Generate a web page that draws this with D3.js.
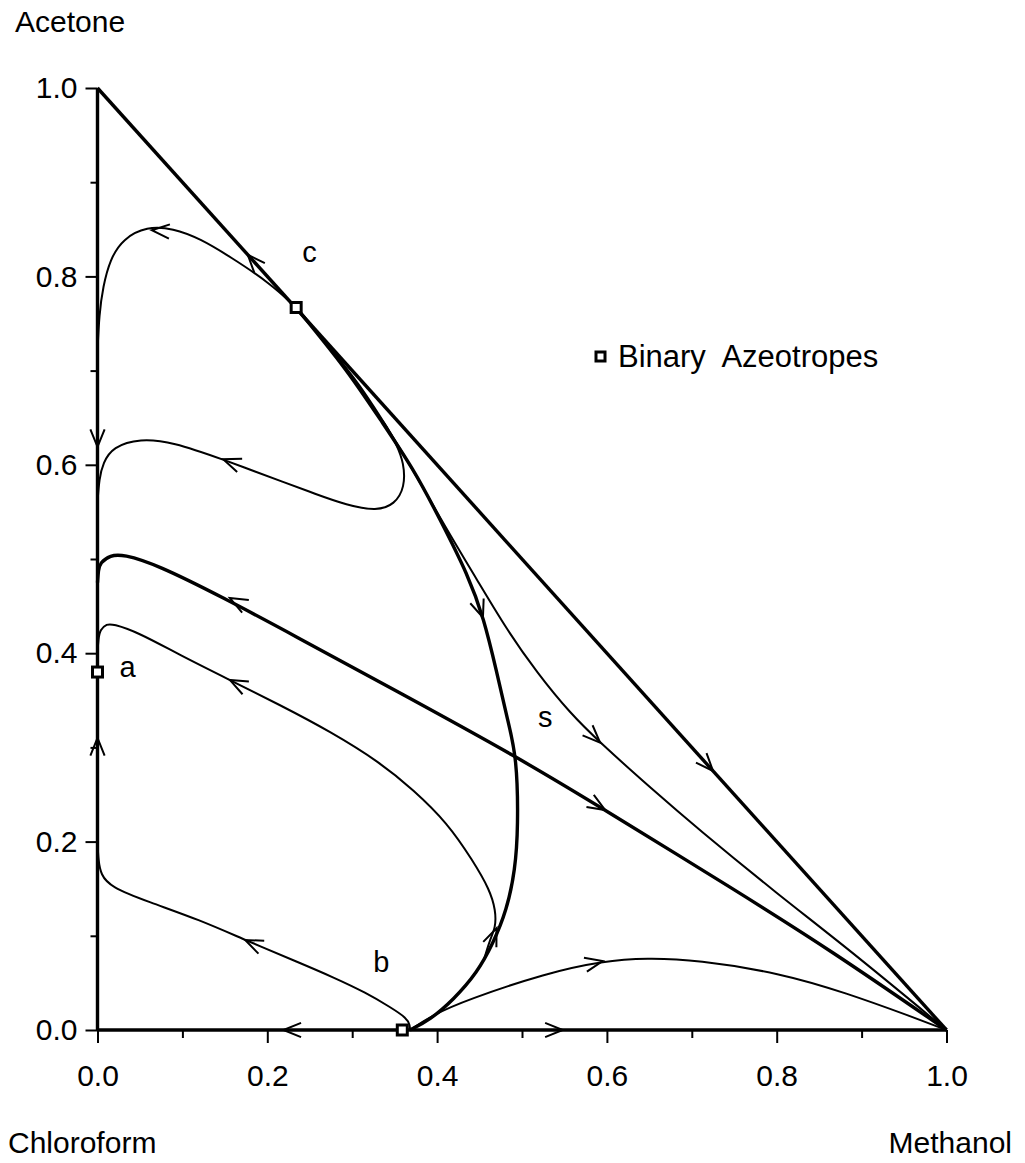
<!DOCTYPE html>
<html>
<head>
<meta charset="utf-8">
<script src="https://cdn.jsdelivr.net/npm/d3@7"></script>
<style>
  body { margin: 0; background: #fff; }
  text { font-family: "Liberation Sans", Arial, sans-serif; fill: #000; }
</style>
</head>
<body>
<script>
// compositions: [methanol fraction, acetone fraction], chloroform is the rest
var edgeLeft = [[0, 0], [0, 1]];
var edgeBottom = [[0, 0], [1, 0]];
var edgeHyp = [[0, 1], [1, 0]];

var curveTop = [[0, 0.72], [0.002, 0.76], [0.0065, 0.789], [0.0147, 0.818], [0.030, 0.840],
  [0.058, 0.853], [0.089, 0.851], [0.121, 0.840], [0.156, 0.821], [0.203, 0.793], [0.234, 0.767]];

var curveLoop = [[0, 0.56], [0.002, 0.585], [0.0065, 0.602], [0.018, 0.619], [0.050, 0.628],
  [0.089, 0.624], [0.144, 0.607], [0.227, 0.579], [0.254, 0.570], [0.294, 0.557], [0.329, 0.551],
  [0.350, 0.558], [0.362, 0.576], [0.361, 0.602], [0.352, 0.622], [0.340, 0.642], [0.331, 0.652]];

var sepMain = [[0.234, 0.767], [0.294, 0.701], [0.333, 0.648], [0.372, 0.596], [0.403, 0.543],
  [0.437, 0.482], [0.455, 0.437], [0.470, 0.381], [0.483, 0.329], [0.494, 0.290], [0.4955, 0.2155],
  [0.492, 0.170], [0.482, 0.127], [0.466, 0.092], [0.447, 0.0605], [0.419, 0.032], [0.392, 0.011],
  [0.368, 0]];

var sepLine = [[0, 0.475], [0.001, 0.488], [0.003, 0.496], [0.015, 0.504], [0.030, 0.505],
  [0.070, 0.494], [0.148, 0.459], [0.227, 0.421], [0.36, 0.356], [0.494, 0.290], [0.598, 0.2335],
  [0.75, 0.149], [0.863, 0.085], [1, 0]];

var curveLow = [[0, 0.40], [0.001, 0.415], [0.003, 0.425], [0.011, 0.431], [0.018, 0.431],
  [0.047, 0.4225], [0.097, 0.398], [0.156, 0.3715], [0.215, 0.345], [0.274, 0.317], [0.333, 0.284],
  [0.372, 0.255], [0.412, 0.220], [0.442, 0.180], [0.462, 0.149], [0.469, 0.127], [0.469, 0.109],
  [0.462, 0.0955], [0.455, 0.074]];

var curveB = [[0, 0.20], [0.001, 0.18], [0.004, 0.165], [0.015, 0.152], [0.06, 0.136], [0.12, 0.117],
  [0.174, 0.0955], [0.2385, 0.0711], [0.277, 0.0563], [0.317, 0.0393], [0.3445, 0.0244],
  [0.3645, 0.0127], [0.368, 0.005], [0.368, 0]];

var curveC = [[0.234, 0.767], [0.27, 0.728], [0.306, 0.690], [0.36, 0.613], [0.4115, 0.531],
  [0.447, 0.478], [0.482, 0.425], [0.518, 0.379], [0.556, 0.337], [0.592, 0.305], [0.654, 0.255],
  [0.706, 0.2145], [0.80, 0.145], [0.886, 0.085], [1, 0]];

var curveBottom = [[0.368, 0], [0.395, 0.016], [0.435, 0.032], [0.529, 0.0605], [0.5954, 0.0732],
  [0.647, 0.0764], [0.706, 0.0743], [0.804, 0.0605], [0.882, 0.0393], [0.960, 0.0138], [1, 0]];

var thinCurves = [curveTop, curveLoop, curveLow, curveB, curveC, curveBottom];
var thickCurves = [sepMain, sepLine, edgeLeft, edgeBottom, edgeHyp];

// arrow tips: curve, point, direction along the curve (+1 / -1)
var arrows = [
  [edgeLeft, [0, 0.619], -1], [edgeLeft, [0, 0.31], 1],
  [edgeBottom, [0.219, 0], -1], [edgeBottom, [0.548, 0], 1],
  [edgeHyp, [0.177, 0.823], -1], [edgeHyp, [0.725, 0.275], 1],
  [curveTop, [0.064, 0.849], -1], [curveLoop, [0.148, 0.606], -1],
  [sepLine, [0.156, 0.4585], -1], [sepLine, [0.598, 0.2335], 1],
  [curveLow, [0.156, 0.3715], -1], [curveB, [0.174, 0.0955], -1],
  [sepMain, [0.454, 0.438], 1], [sepMain, [0.470, 0.108], -1],
  [curveC, [0.592, 0.305], 1], [curveBottom, [0.595, 0.0732], 1]
];

var azeotropes = [{name: "a", x: 0, y: 0.38}, {name: "b", x: 0.359, y: 0}, {name: "c", x: 0.234, y: 0.767}];
var saddle = {name: "s", x: 0.494, y: 0.290};

var majorTicks = [0, 0.2, 0.4, 0.6, 0.8, 1.0];
var minorTicks = [0.1, 0.3, 0.5, 0.7, 0.9];

var svg = d3.select("body").append("svg")
  .attr("width", 1025).attr("height", 1163);

var x = d3.scaleLinear().domain([0, 1]).range([97.5, 946.5]);
var y = d3.scaleLinear().domain([0, 1]).range([1030, 88]);

// axes (ticks only, edges drawn as curves)
function ticks(g) {
  g.select(".domain").remove();
  g.selectAll("line").attr("stroke", "#000").attr("stroke-width", 2);
  g.selectAll("text").style("font-size", "30px").attr("fill", "#000");
}
svg.append("g").attr("transform", "translate(0,1030)")
  .call(d3.axisBottom(x).tickValues(minorTicks).tickSize(8).tickFormat(""))
  .call(ticks);
svg.append("g").attr("transform", "translate(0,1030)")
  .call(d3.axisBottom(x).tickValues(majorTicks).tickSize(13).tickPadding(22).tickFormat(d3.format(".1f")))
  .call(ticks);
svg.append("g").attr("transform", "translate(97.5,0)")
  .call(d3.axisLeft(y).tickValues(minorTicks).tickSize(7).tickFormat(""))
  .call(ticks);
svg.append("g").attr("transform", "translate(97.5,0)")
  .call(d3.axisLeft(y).tickValues(majorTicks).tickSize(12).tickPadding(8).tickFormat(d3.format(".1f")))
  .call(ticks);

var line = d3.line()
  .x(function(d) { return x(d[0]); })
  .y(function(d) { return y(d[1]); })
  .curve(d3.curveBasis);

svg.selectAll(".thin").data(thinCurves).enter().append("path")
  .attr("class", "thin")
  .attr("d", line)
  .attr("fill", "none").attr("stroke", "#000").attr("stroke-width", 2);

svg.selectAll(".thick").data(thickCurves).enter().append("path")
  .attr("class", "thick")
  .attr("d", line)
  .attr("fill", "none").attr("stroke", "#000").attr("stroke-width", 3.4)
  .attr("stroke-linejoin", "round");

// open chevron arrowheads, oriented along the nearest curve segment
function arrowPath(a) {
  var pts = a[0].map(function(d) { return [x(d[0]), y(d[1])]; });
  var tx = x(a[1][0]), ty = y(a[1][1]);
  var best = 1e9, dir = [1, 0];
  for (var i = 0; i < pts.length - 1; i++) {
    var p = pts[i], q = pts[i + 1];
    var vx = q[0] - p[0], vy = q[1] - p[1];
    var L2 = vx * vx + vy * vy;
    if (L2 === 0) continue;
    var t = Math.max(0, Math.min(1, ((tx - p[0]) * vx + (ty - p[1]) * vy) / L2));
    var dx = p[0] + t * vx - tx, dy = p[1] + t * vy - ty;
    var dist = dx * dx + dy * dy;
    if (dist < best) { best = dist; var L = Math.sqrt(L2); dir = [vx / L * a[2], vy / L * a[2]]; }
  }
  var len = 19, ang = 22 * Math.PI / 180;
  var bx = -dir[0], by = -dir[1];
  function rot(s) {
    var c = Math.cos(s * ang), sn = Math.sin(s * ang);
    return [tx + len * (bx * c - by * sn), ty + len * (bx * sn + by * c)];
  }
  var l = rot(1), r = rot(-1);
  return "M" + l[0] + "," + l[1] + "L" + tx + "," + ty + "L" + r[0] + "," + r[1];
}

svg.selectAll(".arrow").data(arrows).enter().append("path")
  .attr("class", "arrow")
  .attr("d", arrowPath)
  .attr("fill", "none").attr("stroke", "#000").attr("stroke-width", 2);

// azeotrope markers
svg.selectAll(".az").data(azeotropes).enter().append("rect")
  .attr("class", "az")
  .attr("x", function(d) { return x(d.x) - 5; })
  .attr("y", function(d) { return y(d.y) - 5; })
  .attr("width", 10).attr("height", 10)
  .attr("fill", "#fff").attr("stroke", "#000").attr("stroke-width", 3);

var labelOffset = {a: [22, 5], b: [-29, -58], c: [6, -45], s: [21, -30]};
svg.selectAll(".lab").data(azeotropes.concat([saddle])).enter().append("text")
  .attr("class", "lab")
  .attr("x", function(d) { return x(d.x) + labelOffset[d.name][0]; })
  .attr("y", function(d) { return y(d.y) + labelOffset[d.name][1]; })
  .style("font-size", "29px")
  .text(function(d) { return d.name; });

// legend
svg.append("rect").attr("x", 596).attr("y", 352).attr("width", 9).attr("height", 9)
  .attr("fill", "#fff").attr("stroke", "#000").attr("stroke-width", 3);
svg.append("text").attr("x", 618).attr("y", 367).style("font-size", "31px")
  .attr("xml:space", "preserve").text("Binary  Azeotropes");

// component names
svg.append("text").attr("x", 15).attr("y", 32).style("font-size", "30px").text("Acetone");
svg.append("text").attr("x", 8).attr("y", 1153).style("font-size", "30px").text("Chloroform");
svg.append("text").attr("x", 1012).attr("y", 1153).attr("text-anchor", "end").style("font-size", "30px").text("Methanol");
</script>
</body>
</html>
